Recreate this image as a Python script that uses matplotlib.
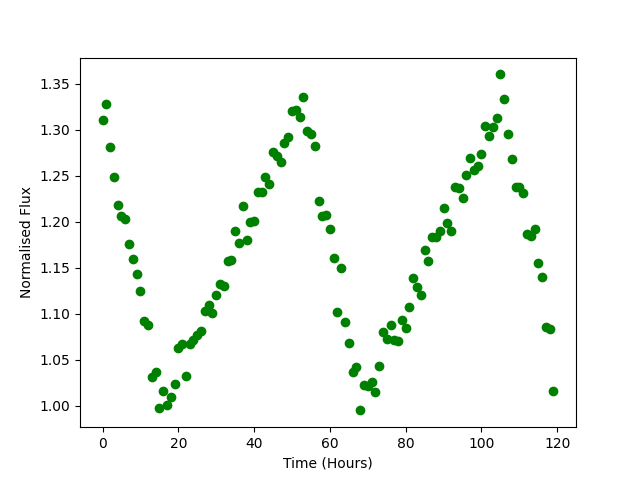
import numpy as np
import matplotlib
matplotlib.use("Agg")
import matplotlib.pyplot as plt

# hourly normalised flux readings
hours = np.arange(120)
flux = [
    1.311, 1.328, 1.281, 1.249, 1.218, 1.206, 1.203, 1.176, 1.159, 1.143,
    1.125, 1.092, 1.088, 1.031, 1.037, 0.998, 1.016, 1.001, 1.010, 1.024,
    1.063, 1.067, 1.032, 1.067, 1.072, 1.077, 1.081, 1.103, 1.109, 1.101,
    1.120, 1.132, 1.130, 1.157, 1.158, 1.190, 1.177, 1.217, 1.180, 1.200,
    1.201, 1.232, 1.232, 1.249, 1.241, 1.276, 1.271, 1.265, 1.286, 1.292,
    1.320, 1.321, 1.314, 1.335, 1.298, 1.295, 1.282, 1.222, 1.206, 1.207,
    1.192, 1.161, 1.102, 1.150, 1.091, 1.068, 1.037, 1.042, 0.995, 1.023,
    1.022, 1.026, 1.015, 1.043, 1.080, 1.073, 1.088, 1.072, 1.070, 1.093,
    1.085, 1.107, 1.139, 1.129, 1.120, 1.169, 1.157, 1.183, 1.183, 1.190,
    1.215, 1.199, 1.190, 1.238, 1.237, 1.226, 1.251, 1.269, 1.256, 1.261,
    1.273, 1.304, 1.293, 1.303, 1.313, 1.360, 1.333, 1.295, 1.268, 1.238,
    1.238, 1.231, 1.187, 1.184, 1.192, 1.155, 1.140, 1.086, 1.083, 1.016,
]

fig = plt.figure(figsize=(6.4, 4.8), dpi=100)
ax = fig.add_subplot(111)
ax.plot(hours, flux, "go")
ax.set_xlabel("Time (Hours)")
ax.set_ylabel("Normalised Flux")
fig.savefig("out.png", dpi=100)
